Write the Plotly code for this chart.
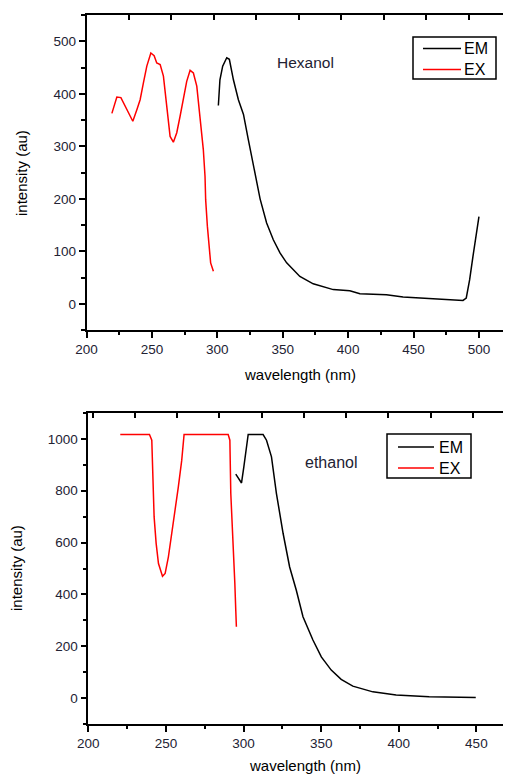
import plotly.graph_objects as go

# Page is shown with the default 8px body margin, so the figure is sized/offset to fill the
# 511x776 window exactly.
OFF = 8
W, H = 511 - OFF, 776 - OFF

# ---- Hexanol (top) ----
hex_ex_wl = [219.4, 223.2, 226.3, 229.5, 232.0, 235.4, 238.5, 241.0, 243.5, 246.1, 249.2, 251.7,
             253.7, 256.3, 258.8, 261.4, 263.9, 266.4, 269.0, 271.5, 274.0, 276.6, 279.2, 281.7,
             284.3, 286.8, 289.3, 290.6, 291.1, 292.4, 293.9, 294.9, 297.0]
hex_ex_i = [363, 394, 393, 377, 362, 348, 370, 389, 421, 453, 478, 473,
            459, 456, 434, 377, 319, 308, 326, 357, 389, 424, 445, 440,
            415, 357, 294, 243, 198, 148, 109, 78, 62]
hex_em_wl = [300.8, 302.0, 304.1, 307.2, 309.2, 312.3, 316.1, 320.0, 323.7, 327.5, 332.7, 337.7,
             342.8, 347.9, 353.0, 363.1, 373.3, 388.6, 401.3, 409.0, 429.3, 442.0, 457.3, 472.6,
             482.7, 487.8, 490.3, 492.9, 495.4, 498.0, 500.0]
hex_em_i = [378, 427, 453, 469, 466, 427, 389, 361, 313, 262, 200, 154,
            122, 97, 78, 52, 38, 27, 25, 19, 17, 13, 11, 9.5,
            7.6, 6.4, 11, 46, 90, 135, 166]

# ---- Ethanol (bottom) ----
eth_ex_wl = [220.6, 239.4, 240.9, 241.5, 242.4, 243.7, 245.2, 247.8, 249.5, 251.6, 253.8, 255.9,
             258.0, 260.2, 261.7, 290.1, 291.2, 291.8, 293.3, 294.4, 295.0, 295.4]
eth_ex_i = [1017, 1017, 995, 841, 699, 597, 519, 470, 481, 545, 635, 725,
            815, 918, 1017, 1017, 995, 789, 609, 442, 339, 275]
eth_em_wl = [295.0, 297.6, 298.7, 300.2, 301.5, 303.0, 312.6, 314.8, 318.0, 321.2, 325.5, 329.7,
             334.0, 338.3, 344.7, 350.1, 356.5, 362.9, 370.4, 383.3, 398.3, 419.6, 449.6]
eth_em_i = [864, 841, 830, 892, 956, 1017, 1017, 995, 931, 789, 635, 506,
            416, 314, 224, 159, 108, 72, 46, 24, 12, 5.0, 2.6]

series_names = ["EM", "EX"]
series_colors = ["black", "#ff0000"]

FONT = "Liberation Sans, Arial, sans-serif"
TICKC = "#222233"

def px(x):
    return (x - OFF) / W

def py(y):
    return 1 - (y - OFF) / H

fig = go.Figure()
for (wl, it, xa, ya), name, col in zip(
        [(hex_em_wl, hex_em_i, "x", "y"), (hex_ex_wl, hex_ex_i, "x", "y")],
        series_names, series_colors):
    fig.add_trace(go.Scatter(x=wl, y=it, mode="lines", name=name, showlegend=False,
                             line=dict(color=col, width=1.5), xaxis=xa, yaxis=ya))
for (wl, it, xa, ya), name, col in zip(
        [(eth_em_wl, eth_em_i, "x2", "y2"), (eth_ex_wl, eth_ex_i, "x2", "y2")],
        series_names, series_colors):
    fig.add_trace(go.Scatter(x=wl, y=it, mode="lines", name=name, showlegend=False,
                             line=dict(color=col, width=1.5), xaxis=xa, yaxis=ya))

common = dict(showgrid=False, zeroline=False, showline=True, linecolor="black", linewidth=1.5,
              ticks="outside", ticklen=6, tickwidth=1.5, tickcolor="black", automargin=False,
              tickfont=dict(family=FONT, size=13.5, color=TICKC))

mirror_x = dict(showticklabels=False, ticks="inside", ticklen=5, tickwidth=1.5,
                tickcolor="black", showline=True, linecolor="black", linewidth=1.5,
                showgrid=False, zeroline=False, automargin=False)
mirror_y = dict(showticklabels=False, ticks="inside", ticklen=5, tickwidth=1.5,
                tickcolor="black", showline=False,
                showgrid=False, zeroline=False, automargin=False)

top_dom = [py(330), py(15)]
bot_dom = [py(724), py(413)]
minor_c = dict(ticks="outside", ticklen=3.5, tickcolor="black", tickwidth=1.5)

fig.update_layout(
    width=W, height=H, margin=dict(l=0, r=0, t=0, b=0, autoexpand=False),
    paper_bgcolor="white", plot_bgcolor="white", showlegend=False,
    xaxis=dict(domain=[px(86.5), 1], range=[200, 524.5], anchor="y", tick0=200, dtick=50,
               minor=dict(dtick=25, **minor_c), **common),
    yaxis=dict(domain=top_dom, range=[-50, 550.5], anchor="x", tick0=0, dtick=100,
               minor=dict(dtick=50, **minor_c), **common),
    xaxis2=dict(domain=[px(88.3), 1], range=[200, 472.3], anchor="y2", tick0=200, dtick=50,
                minor=dict(dtick=25, **minor_c), **common),
    yaxis2=dict(domain=bot_dom, range=[-100, 1100], anchor="x2", tick0=0, dtick=200,
                minor=dict(dtick=100, **minor_c), **common),
    xaxis3=dict(domain=[px(86.5), 1], range=[0, 10], dtick=1, side="top", anchor="y",
                overlaying="x", **mirror_x),
    yaxis3=dict(domain=top_dom, range=[0, 10], dtick=1, side="right", anchor="x",
                overlaying="y", **mirror_y),
    xaxis4=dict(domain=[px(88.3), 1], range=[-0.1, 9.9], dtick=1, side="top", anchor="y2",
                overlaying="x2", **mirror_x),
    yaxis4=dict(domain=bot_dom, range=[0, 5], dtick=1, side="right", anchor="x2",
                overlaying="y2", **mirror_y),
)

fig.add_trace(go.Scatter(x=[None], y=[None], xaxis="x3", yaxis="y3", showlegend=False, hoverinfo="skip"))
fig.add_trace(go.Scatter(x=[None], y=[None], xaxis="x4", yaxis="y4", showlegend=False, hoverinfo="skip"))

title_font = dict(family=FONT, size=15, color="black")
annotations = [
    dict(text="Hexanol", x=px(275), y=py(62), xanchor="left", yanchor="middle",
         font=dict(family=FONT, size=15.5, color=TICKC)),
    dict(text="ethanol", x=px(303), y=py(462), xanchor="left", yanchor="middle",
         font=dict(family=FONT, size=16, color=TICKC)),
    dict(text="wavelength (nm)", x=px(299.5), y=py(374), xanchor="center", yanchor="middle",
         font=title_font),
    dict(text="wavelength (nm)", x=px(305), y=py(765), xanchor="center", yanchor="middle",
         font=title_font),
    dict(text="intensity (au)", x=px(21), y=py(173), xanchor="center", yanchor="middle",
         textangle=-90, font=title_font),
    dict(text="intensity (au)", x=px(16), y=py(568), xanchor="center", yanchor="middle",
         textangle=-90, font=title_font),
]

# Legend boxes (drawn in page pixel positions): box, line span, text x, row y's
legend_boxes = [
    dict(box=(413, 37, 496, 79), line=(423, 461), tx=462, rows=(48.5, 69.5)),
    dict(box=(387, 434, 471, 478), line=(398, 434), tx=437, rows=(447, 468)),
]
shapes = []
for lg in legend_boxes:
    x0, y0, x1, y1 = lg["box"]
    shapes.append(dict(type="rect", xref="paper", yref="paper",
                       x0=px(x0), x1=px(x1), y0=py(y1), y1=py(y0),
                       line=dict(color="black", width=1.5), fillcolor="white", layer="above"))
    for ry, name, col in zip(lg["rows"], series_names, series_colors):
        shapes.append(dict(type="line", xref="paper", yref="paper",
                           x0=px(lg["line"][0]), x1=px(lg["line"][1]), y0=py(ry), y1=py(ry),
                           line=dict(color=col, width=1.5), layer="above"))
        annotations.append(dict(text=name, x=px(lg["tx"]), y=py(ry + 0.5), xanchor="left",
                                yanchor="middle", font=dict(family=FONT, size=16, color="black")))

for a in annotations:
    a.update(xref="paper", yref="paper", showarrow=False)
fig.update_layout(annotations=annotations, shapes=shapes)

fig.write_html("out.html")
